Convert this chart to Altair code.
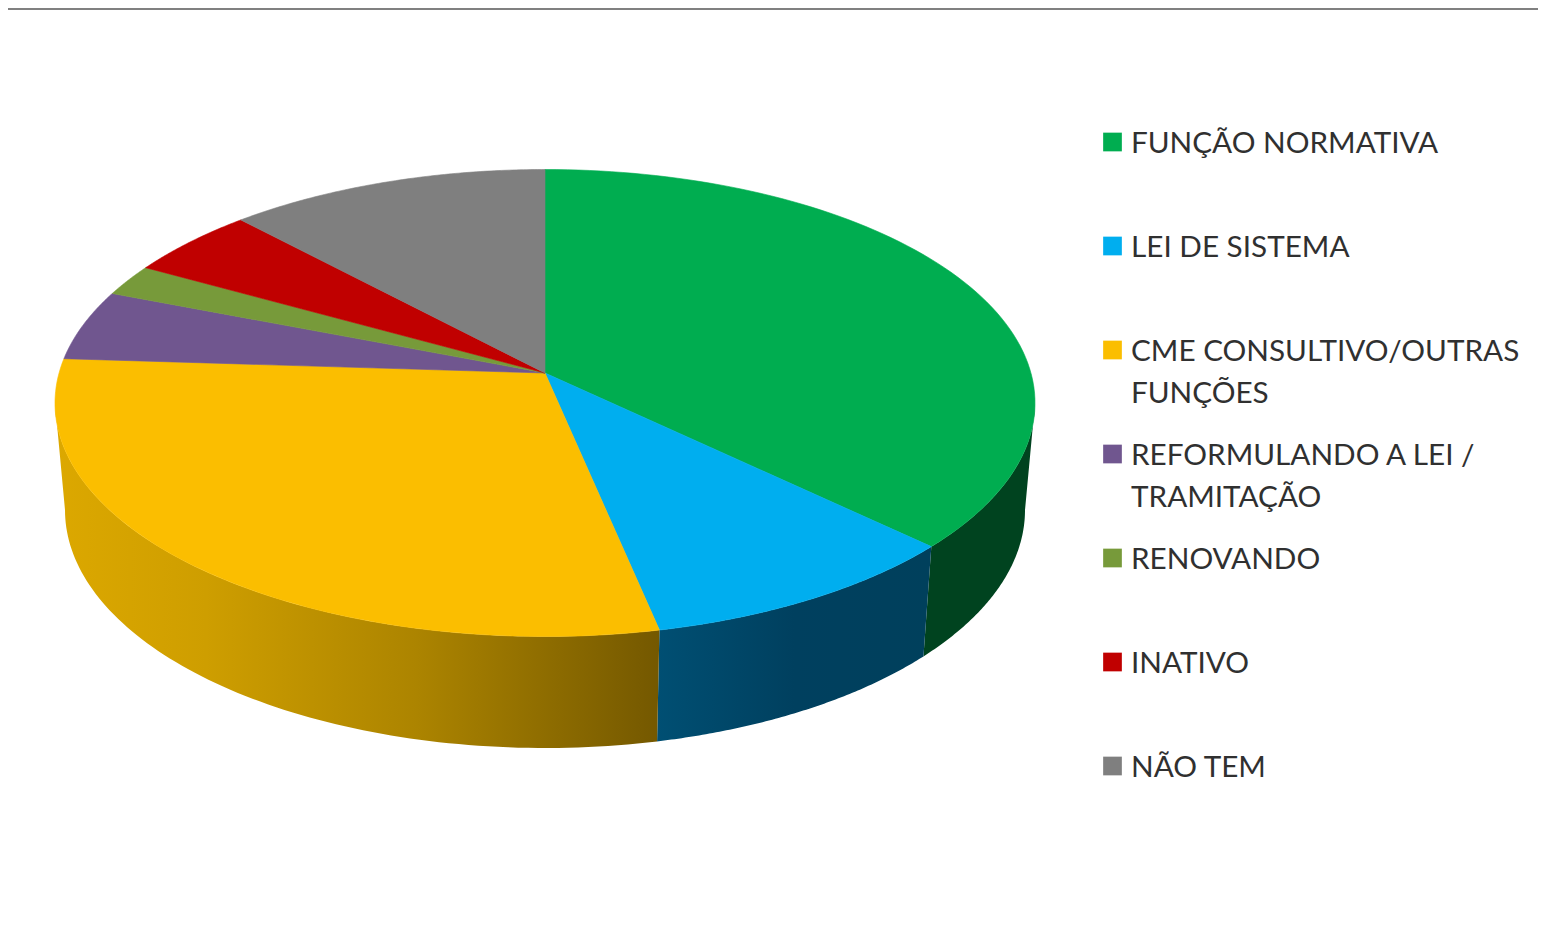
import math
import altair as alt
import pandas as pd

categories = ["FUNÇÃO NORMATIVA", "LEI DE SISTEMA", "CME CONSULTIVO/OUTRAS|FUNÇÕES",
              "REFORMULANDO A LEI /|TRAMITAÇÃO", "RENOVANDO", "INATIVO", "NÃO TEM"]
values = [37.1, 9.6, 29.3, 4.9, 2.2, 4.9, 12.0]
colors = ["#00AD50", "#00AEEF", "#FBBE00", "#70568F", "#779A3A", "#C00000", "#7F7F7F"]

W, H = 1530, 900
OFF = 8
# Disc geometry in page pixels
TOP = dict(cx=545, cy=403, rx=490, ry=233.5)
BOT = dict(cx=545, cy=510, rx=480, ry=238)
A = 30 / 233.5  # perspective shift of the apex towards the back


def rim(angle, e):
    """Point of the rim at a clockwise angle from the top of the disc, in perspective."""
    u, v = math.sin(angle), math.cos(angle)
    d = 1 + A * v
    X = u * math.sqrt(1 - A * A) / d
    Y = (v + A) / d
    return [e["cx"] + e["rx"] * X, e["cy"] - e["ry"] * Y]


def arc(a0, a1, e, n=90):
    return [rim(a0 + (a1 - a0) * i / n, e) for i in range(n + 1)]


def feature(ring, name):
    ring = ring + [ring[0]]
    return {"type": "Feature", "properties": {"name": name},
            "geometry": {"type": "Polygon", "coordinates": [ring]}}


total = sum(values)
bounds = [0]
for v in values:
    bounds.append(bounds[-1] + v / total * 2 * math.pi)
apex = [TOP["cx"], TOP["cy"] - A * TOP["ry"]]

faces = [feature([apex] + arc(bounds[i], bounds[i + 1], TOP), categories[i]) for i in range(len(values))]

# silhouette angles (where the rim is widest on screen)
sil_r = math.acos(-A)
sil_l = 2 * math.pi - sil_r


def wall(a0, a1, name):
    return feature(arc(a0, a1, TOP) + arc(a1, a0, BOT), name)


PROJ = dict(type="identity", scale=1, translate=[-OFF, -OFF])
color_scale = alt.Scale(domain=categories, range=colors)


def gradient(stops):
    return alt.LinearGradient(gradient="linear", x1=0, x2=1, y1=0, y2=0,
                              stops=[alt.GradientStop(color=c, offset=o) for o, c in stops])


def wall_layer(f, stops):
    return alt.Chart(alt.Data(values=[f])).mark_geoshape(
        fill=gradient(stops), strokeWidth=0
    ).project(**PROJ)


wall_green = wall_layer(wall(sil_r, bounds[1], "g"), [(0, "#00431F"), (1, "#00431F")])
wall_blue = wall_layer(wall(bounds[1], bounds[2], "b"), [(0, "#004F73"), (0.5, "#00405F"), (1, "#00405C")])
wall_yellow = wall_layer(wall(bounds[2], sil_l, "y"),
                         [(0, "#DCA800"), (0.25, "#CE9E00"), (0.6, "#AC8400"), (1, "#745800")])

face_layer = alt.Chart(alt.Data(values=faces)).mark_geoshape(strokeWidth=0.6).encode(
    color=alt.Color("properties.name:N", scale=color_scale, legend=None),
    stroke=alt.Stroke("properties.name:N", scale=color_scale, legend=None),
).project(**PROJ)

legend_df = pd.DataFrame({
    "name": categories,
    "sx": [1112.5 - OFF] * len(categories),
    "tx": [1131 - OFF] * len(categories),
    "sy": [142 + 104 * i - OFF for i in range(len(categories))],
    "ty": [152.5 + 104 * i - OFF for i in range(len(categories))],
})
xs = alt.Scale(domain=[0, W], range=[0, W])
ys = alt.Scale(domain=[0, H], range=[0, H])

squares = alt.Chart(legend_df).mark_square(size=350, opacity=1).encode(
    x=alt.X("sx:Q", scale=xs, axis=None),
    y=alt.Y("sy:Q", scale=ys, axis=None),
    color=alt.Color("name:N", scale=color_scale, legend=None),
)
labels = alt.Chart(legend_df).mark_text(
    align="left", baseline="alphabetic", font="Lato", fontSize=29.7, color="#303030",
    lineBreak="|", lineHeight=42,
).encode(
    x=alt.X("tx:Q", scale=xs, axis=None),
    y=alt.Y("ty:Q", scale=ys, axis=None),
    text="name:N",
)
frame_top = alt.Chart(alt.Data(values=[{"a": 1}])).mark_rect(color="#808080").encode(
    x=alt.value(0), x2=alt.value(W), y=alt.value(0), y2=alt.value(2)
)

chart = alt.layer(frame_top, wall_green, wall_blue, wall_yellow, face_layer, squares, labels).resolve_scale(
    color="shared", stroke="shared"
).properties(
    width=W, height=H, padding=0, autosize=alt.AutoSizeParams(type="none"), background="white"
).configure_view(stroke=None)

chart.save("out.html", embed_options={"renderer": "svg", "actions": False})
